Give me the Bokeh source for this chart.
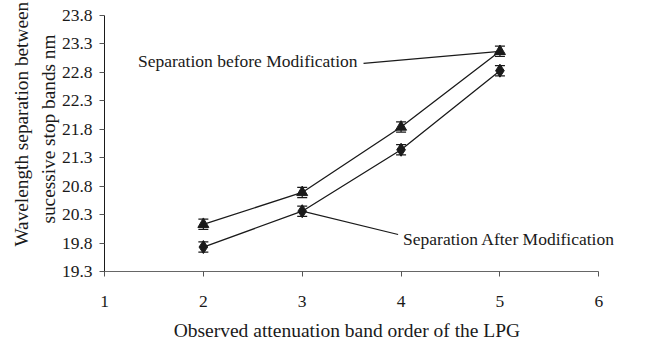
import numpy as np
from bokeh.plotting import figure
from bokeh.models import (ColumnDataSource, Whisker, TeeHead, Label, Range1d,
                          FixedTicker, NumeralTickFormatter)
from bokeh.embed import file_html
from bokeh.resources import INLINE

# ---- data ----
orders = [2, 3, 4, 5]
before = [20.13, 20.69, 21.84, 23.17]
after = [19.73, 20.36, 21.44, 22.83]
err_before = [0.09, 0.09, 0.09, 0.09]
err_after = [0.09, 0.09, 0.09, 0.09]
x_ticks = [1, 2, 3, 4, 5, 6]
y_ticks = [19.3, 19.8, 20.3, 20.8, 21.3, 21.8, 22.3, 22.8, 23.3, 23.8]

label_before = "Separation before Modification"
label_after = "Separation After Modification"
NB = "\u00a0"
x_title = "Observed attenuation band order of the LPG" + NB * 7
y_title = (NB * 8 + "Wavelength separation between\n"
           + NB * 6 + "sucessive stop bands nm")

FONT = "Liberation Serif"
INK = "#1a1a1a"

p = figure(width=668, height=343, output_backend="svg", toolbar_location=None,
           x_range=Range1d(1, 6.25), y_range=Range1d(19.3, 23.8),
           min_border_left=104, min_border_right=45, min_border_top=15,
           min_border_bottom=70)
p.outline_line_color = None
p.xgrid.visible = False
p.ygrid.visible = False
p.background_fill_color = "white"

for ax in (p.xaxis[0], p.yaxis[0]):
    ax.major_label_text_font = FONT
    ax.major_label_text_font_size = "17.5px"
    ax.major_label_text_color = INK
    ax.axis_label_text_font = FONT
    ax.axis_label_text_font_style = "normal"
    ax.axis_label_text_color = INK
    ax.minor_tick_line_color = None
    ax.major_tick_in = 0
    ax.major_tick_out = 5

p.xaxis.ticker = FixedTicker(ticks=x_ticks)
p.yaxis.ticker = FixedTicker(ticks=y_ticks)
p.xaxis.bounds = (x_ticks[0], x_ticks[-1])
p.xaxis.formatter = NumeralTickFormatter(format="0")
p.yaxis.formatter = NumeralTickFormatter(format="0.0")
p.xaxis.axis_label = x_title
p.yaxis.axis_label = y_title
p.xaxis.axis_label_text_font_size = "19.5px"
p.yaxis.axis_label_text_font_size = "19.3px"
p.yaxis.axis_label_text_line_height = 1.3
p.xaxis.axis_line_color = "#666666"
p.xaxis.major_tick_line_color = "#555555"
p.yaxis.axis_line_color = INK
p.yaxis.major_tick_line_color = "#555555"
p.xaxis.major_label_standoff = 19
p.xaxis.axis_label_standoff = 10
p.yaxis.major_label_standoff = 7
p.yaxis.axis_label_standoff = 0

# series lines
p.line(orders, before, line_color=INK, line_width=1.3)
p.line(orders, after, line_color=INK, line_width=1.3)

# error bars
for vals, errs in ((before, err_before), (after, err_after)):
    src = ColumnDataSource(dict(
        base=orders,
        upper=[v + e for v, e in zip(vals, errs)],
        lower=[v - e for v, e in zip(vals, errs)]))
    w = Whisker(source=src, base="base", upper="upper", lower="lower",
                line_color=INK, line_width=1.2,
                upper_head=TeeHead(size=10, line_color=INK, line_width=1.2),
                lower_head=TeeHead(size=10, line_color=INK, line_width=1.2))
    p.add_layout(w)

# markers
p.scatter(orders, before, marker="triangle", size=11, fill_color=INK, line_color=INK)
p.scatter(orders, after, marker="diamond", size=13, fill_color=INK, line_color=INK)

# annotation connectors + labels
lb_x, lb_y = 3.62, 22.96
la_x, la_y = 3.97, 19.95
p.segment(x0=[lb_x], y0=[lb_y], x1=[orders[3]], y1=[before[3]],
          line_color=INK, line_width=1.2)
p.segment(x0=[la_x], y0=[la_y], x1=[orders[1]], y1=[after[1]],
          line_color=INK, line_width=1.2)
p.add_layout(Label(x=lb_x - 0.06, y=lb_y + 0.04, text=label_before, text_align="right",
                   text_baseline="middle", text_font=FONT,
                   text_font_size="17.5px", text_color=INK))
p.add_layout(Label(x=la_x + 0.05, y=la_y - 0.07, text=label_after, text_align="left",
                   text_baseline="middle", text_font=FONT,
                   text_font_size="17.5px", text_color=INK))

open("out.html", "w").write(file_html(p, INLINE))
